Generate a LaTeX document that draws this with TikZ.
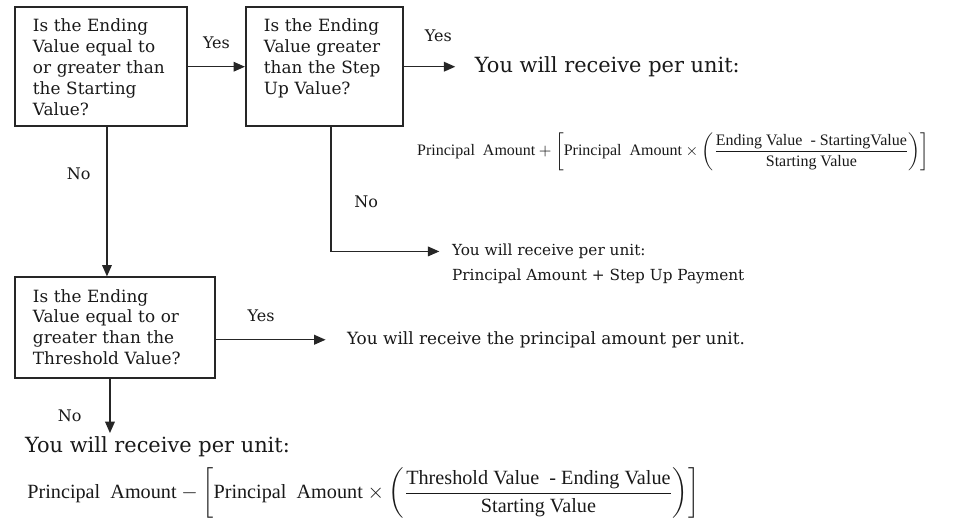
\documentclass[tikz,border=0pt]{standalone}
\usepackage{amsmath}
\usepackage{fontspec}
\setmainfont{DejaVu Serif}
\newfontfamily\eqfont{Liberation Serif}
\usetikzlibrary{arrows.meta, positioning}

\tikzset{
  question/.style={draw=black!85, line width=1.1pt, text=black!90, align=left,
    inner xsep=0.36cm, inner ysep=5.5pt, text height=8.5pt, text depth=48.5pt,
    font=\fontsize{9.6}{11.9}\selectfont},
  answer/.style={text=black!90, inner sep=1pt, font=\fontsize{9.6}{13}\selectfont},
  bigansw/.style={answer, inner ysep=0pt, font=\fontsize{11.9}{16}\selectfont},
  formula/.style={text=black!90, inner sep=0pt},
  branch/.style={text=black!90, font=\fontsize{9.1}{12}\selectfont},
  flow/.style={draw=black!85, line width=0.8pt, -{Triangle[length=6.5pt,width=5.5pt]}}
}

\begin{document}
\begin{tikzpicture}
  \useasboundingbox (0,0) rectangle (19.34,-10.36);
  %Define nodes
  \node[question, text width=2.72cm, anchor=north west] (q_start) at (0.28,-0.12)
    {Is the Ending\\ Value equal to\\ or greater than\\ the Starting\\ Value?};
  \node[question, text width=2.42cm, right=1.14cm of q_start] (q_stepup)
    {Is the Ending\\ Value greater\\ than the Step\\ Up Value?};
  \node[question, text width=3.28cm, text depth=37.8pt,
    below=2.98cm of q_start.south west, anchor=north west] (q_thresh)
    {Is the Ending\\ Value equal to or\\ greater than the\\ Threshold Value?};

  \node[bigansw, right=1.38cm of q_stepup] (pay_growth) {You will receive per unit:};
  \node[formula, font=\eqfont\fontsize{9.1}{10}\selectfont,
    below right=0.48cm and 0.26cm of q_stepup.south east, anchor=west] (pay_growth_eq)
    {$\text{Principal\ \ Amount} + \left[\text{Principal\ \ Amount} \times
      \left(\dfrac{\text{Ending Value\ \ - StartingValue}}{\text{Starting Value}}\right)\right]$};
  \node[answer, font=\fontsize{8.7}{12}\selectfont,
    below right=2.48cm and 2.51cm of q_stepup.south, anchor=west] (pay_stepup)
    {You will receive per unit:};
  \node[answer, font=\fontsize{8.7}{12}\selectfont,
    below=0.12cm of pay_stepup.south west, anchor=north west] (pay_stepup_sum)
    {Principal Amount + Step Up Payment};
  \node[answer, below right=0.24cm and 2.58cm of q_thresh.east, anchor=west] (pay_principal)
    {You will receive the principal amount per unit.};
  \node[bigansw, below right=1.36cm and 0.18cm of q_thresh.south west, anchor=west] (pay_loss)
    {You will receive per unit:};
  \node[formula, font=\eqfont\fontsize{11.5}{12}\selectfont,
    below right=2.28cm and 0.26cm of q_thresh.south west, anchor=west] (pay_loss_eq)
    {$\text{Principal\ \ Amount} - \left[\text{Principal\ \ Amount} \times
      \left(\dfrac{\text{Threshold Value\ \ - Ending Value}}{\text{Starting Value}}\right)\right]$};

  % Connect the nodes
  \draw[flow] (q_start) -- node[branch, above=0.22cm] {Yes} (q_stepup);
  \draw[flow, shorten >=10pt] (q_stepup) -- node[branch, above=0.36cm] {Yes} (pay_growth);
  \draw[flow] ([xshift=0.12cm]q_start.south) -- node[branch, left=0.2cm, pos=0.31] {No}
    ([xshift=0.12cm]q_start.south |- q_thresh.north);
  \draw[flow, shorten >=6pt] ([xshift=0.13cm]q_stepup.south) |- node[branch, right=0.34cm, pos=0.3] {No}
    (pay_stepup);
  \draw[flow, shorten >=11pt] (q_thresh.east |- pay_principal) -- node[branch, above=0.22cm, pos=0.35] {Yes}
    (pay_principal);
  \draw[flow, shorten >=2pt] ([xshift=-0.1cm]q_thresh.south) -- node[branch, left=0.44cm, pos=0.63] {No}
    ([xshift=-0.1cm]q_thresh.south |- pay_loss.north);

\end{tikzpicture}
\end{document}
